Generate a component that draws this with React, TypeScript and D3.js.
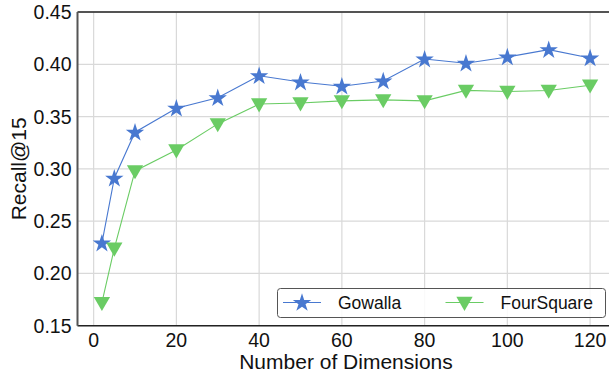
import React, { useEffect, useRef } from 'react';
import * as d3 from 'd3';

const dims = [2, 5, 10, 20, 30, 40, 50, 60, 70, 80, 90, 100, 110, 120];
const gowalla = [0.229, 0.291, 0.335, 0.358, 0.368, 0.389, 0.383, 0.379, 0.384, 0.405, 0.401, 0.407, 0.414, 0.406];
const foursquare = [0.172, 0.224, 0.298, 0.318, 0.343, 0.362, 0.363, 0.365, 0.366, 0.365, 0.375, 0.374, 0.375, 0.380];
const xTicks = [0, 20, 40, 60, 80, 100, 120];
const yTicks = [0.15, 0.2, 0.25, 0.3, 0.35, 0.4, 0.45];

const BLUE = '#4878d0';
const GREEN = '#6acc64';
const FONT = 'Liberation Sans, Arial, sans-serif';

const App = () => {
  const ref = useRef<SVGSVGElement>(null);

  useEffect(() => {
    const svg = d3.select(ref.current);
    svg.selectAll('*').remove();

    const left = 77.5;
    const right = 614.5;
    const top = 12;
    const bottom = 325.7;

    const x = d3.scaleLinear().domain([-3.9, 125.9]).range([left, right]);
    const y = d3.scaleLinear().domain([0.15, 0.45]).range([bottom, top]);

    const g = svg.append('g');

    // grid
    g.selectAll('.vg')
      .data(xTicks)
      .enter()
      .append('line')
      .attr('x1', (d) => x(d))
      .attr('x2', (d) => x(d))
      .attr('y1', top)
      .attr('y2', bottom)
      .attr('stroke', '#d9d9d9')
      .attr('stroke-width', 1.2);
    g.selectAll('.hg')
      .data(yTicks)
      .enter()
      .append('line')
      .attr('x1', left)
      .attr('x2', right)
      .attr('y1', (d) => y(d))
      .attr('y2', (d) => y(d))
      .attr('stroke', '#d9d9d9')
      .attr('stroke-width', 1.2);

    // spines
    g.append('line').attr('x1', left).attr('x2', right).attr('y1', top).attr('y2', top)
      .attr('stroke', '#222').attr('stroke-width', 1.5);
    g.append('line').attr('x1', left).attr('x2', right).attr('y1', bottom).attr('y2', bottom)
      .attr('stroke', '#222').attr('stroke-width', 1.5);
    g.append('line').attr('x1', left).attr('x2', left).attr('y1', top).attr('y2', bottom)
      .attr('stroke', '#555').attr('stroke-width', 2);

    // tick labels
    g.selectAll('.xt')
      .data(xTicks)
      .enter()
      .append('text')
      .attr('x', (d) => x(d))
      .attr('y', 347)
      .attr('text-anchor', 'middle')
      .style('font-family', FONT)
      .style('font-size', '19.5px')
      .style('fill', '#111')
      .text((d) => d);
    g.selectAll('.yt')
      .data(yTicks)
      .enter()
      .append('text')
      .attr('x', 71.5)
      .attr('y', (d) => y(d) + 7)
      .attr('text-anchor', 'end')
      .style('font-family', FONT)
      .style('font-size', '19.5px')
      .style('fill', '#111')
      .text((d) => d.toFixed(2));

    // axis labels
    g.append('text')
      .attr('x', (left + right) / 2)
      .attr('y', 369)
      .attr('text-anchor', 'middle')
      .style('font-family', FONT)
      .style('font-size', '21px')
      .style('fill', '#111')
      .text('Number of Dimensions');
    g.append('text')
      .attr('transform', `translate(25.5,${(top + bottom) / 2}) rotate(-90)`)
      .attr('text-anchor', 'middle')
      .style('font-family', FONT)
      .style('font-size', '21px')
      .style('fill', '#111')
      .text('Recall@15');

    const star = d3.symbol().type(d3.symbolStar).size(105);
    const tri = d3.symbol().type(d3.symbolTriangle).size(115);

    const series = [
      { values: gowalla, color: BLUE, kind: 'star' },
      { values: foursquare, color: GREEN, kind: 'tri' },
    ];

    const line = d3
      .line<number>()
      .x((_, i) => x(dims[i]))
      .y((d) => y(d));

    series.forEach((s) => {
      g.append('path')
        .attr('d', line(s.values))
        .attr('fill', 'none')
        .attr('stroke', s.color)
        .attr('stroke-width', 1.1);
      g.selectAll(null)
        .data(s.values)
        .enter()
        .append('path')
        .attr('d', s.kind === 'star' ? star() : tri())
        .attr('transform', (d, i) =>
          s.kind === 'star'
            ? `translate(${x(dims[i])},${y(d) + 0.5})`
            : `translate(${x(dims[i])},${y(d) - 1}) rotate(180)`
        )
        .attr('fill', s.color);
    });

    // legend
    const leg = g.append('g');
    leg.append('rect')
      .attr('x', 277.5)
      .attr('y', 288.5)
      .attr('width', 328)
      .attr('height', 29)
      .attr('rx', 3)
      .attr('fill', 'white')
      .attr('fill-opacity', 0.85)
      .attr('stroke', '#555')
      .attr('stroke-width', 1);
    const items = [
      { name: 'Gowalla', color: BLUE, kind: 'star', x0: 283 },
      { name: 'FourSquare', color: GREEN, kind: 'tri', x0: 445.5 },
    ];
    items.forEach((it) => {
      leg.append('line')
        .attr('x1', it.x0)
        .attr('x2', it.x0 + 38)
        .attr('y1', 302.5)
        .attr('y2', 302.5)
        .attr('stroke', it.color)
        .attr('stroke-width', 1.1);
      leg.append('path')
        .attr('d', it.kind === 'star' ? star() : tri())
        .attr('transform', it.kind === 'star'
          ? `translate(${it.x0 + 19},303)`
          : `translate(${it.x0 + 19},301.5) rotate(180)`)
        .attr('fill', it.color);
      leg.append('text')
        .attr('x', it.x0 + 55)
        .attr('y', 309)
        .style('font-family', FONT)
        .style('font-size', '17.5px')
        .style('fill', '#111')
        .text(it.name);
    });
  }, []);

  return (
    <svg
      ref={ref}
      width={609}
      height={376}
      style={{ position: 'absolute', left: 0, top: 0, background: 'white' }}
    />
  );
};

export default App;
